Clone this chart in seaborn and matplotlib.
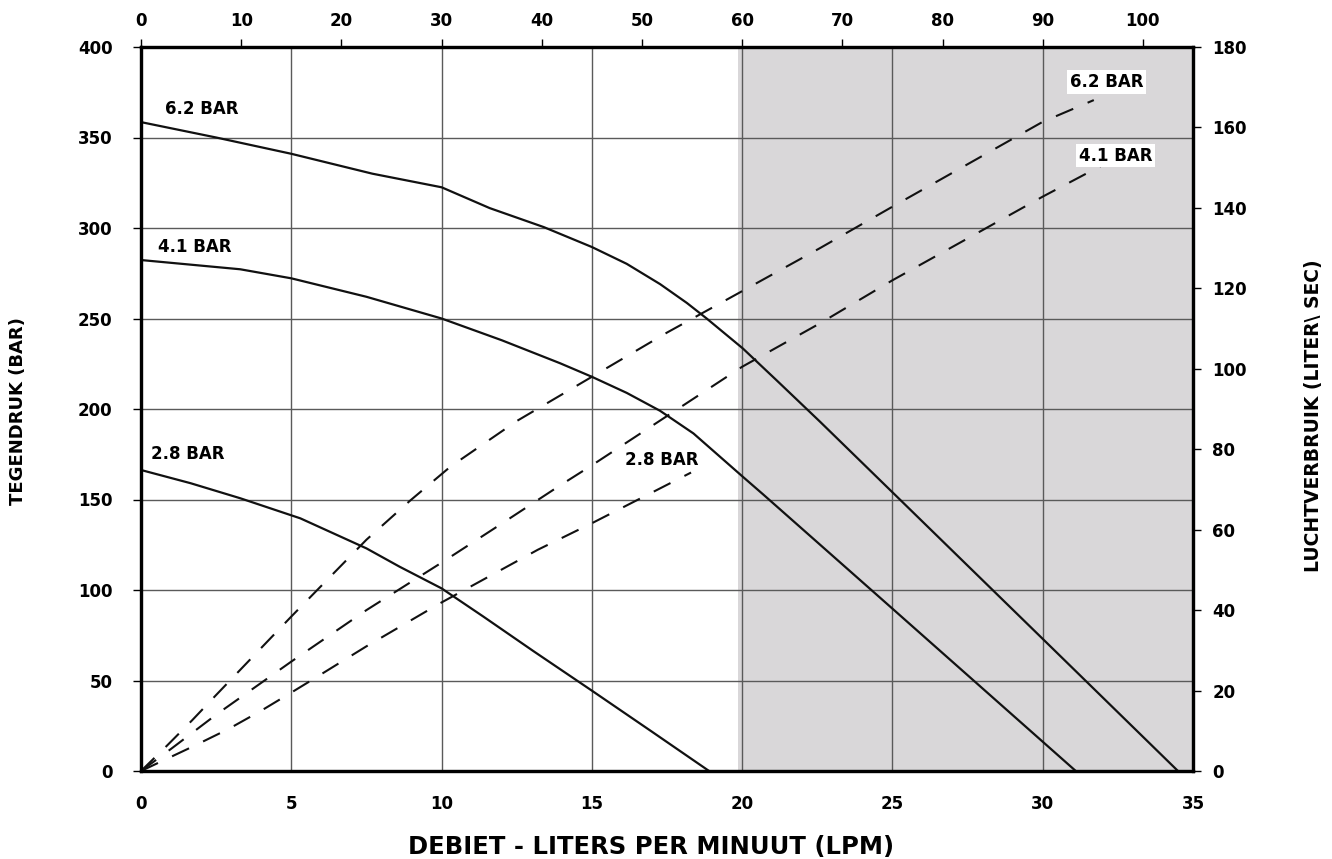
import matplotlib
matplotlib.use('Agg')
import matplotlib.pyplot as plt
import seaborn as sns

# back pressure curves (left axis, bar) vs flow (LPM)
flow_62 = [0, 2.5, 5, 7.7, 10, 11.6, 13.4, 15, 16.16, 17.27, 18.16, 18.82, 20.02, 21.15, 22.59, 25, 30, 34.5]
press_62 = [358.5, 350, 341, 330, 322.5, 311, 300.5, 289.5, 280.2, 269, 258.6, 250, 233.5, 215.8, 193, 154, 73, 0]

flow_41 = [0, 3.3, 5, 7.5, 10, 12, 13.94, 15, 16.16, 17.27, 18.38, 20.02, 20.7, 25, 31.1]
press_41 = [282.3, 277.2, 272.2, 262, 250, 238, 225.3, 217.8, 208.9, 199, 186.5, 162.6, 152.8, 89.7, 0]

flow_28 = [0, 1.65, 3.3, 5.3, 6.4, 7.5, 8.6, 10, 11.4, 13.05, 15, 17, 18.9]
press_28 = [166.3, 159, 150.7, 139.6, 131.3, 123, 112.9, 100.9, 85.2, 66.3, 44.4, 21.7, 0]

# air consumption curves (right axis, liter/sec)
air_flow_62 = [0, 0.85, 1.7, 2.5, 5, 7.5, 8.95, 10.3, 12.5, 15, 17.5, 20, 22.59, 25, 30, 31.7]
air_62 = [0, 6.2, 12.6, 18.9, 38.4, 57.5, 67.2, 75.7, 87, 98, 109, 119.3, 130, 140.3, 161.4, 166.8]

air_flow_41 = [0, 1, 2.5, 5, 7.5, 10, 12, 13.88, 15, 20, 22.59, 25, 30, 32]
air_41 = [0, 5.5, 14, 27.2, 40, 51.8, 61.5, 70.7, 76, 100.5, 111.3, 122, 142.8, 150.7]

air_flow_28 = [0, 1.7, 2.9, 4, 5, 5.57, 7.5, 9.95, 13.2, 15, 18.3]
air_28 = [0, 6, 10.4, 15, 19.5, 22.1, 31, 41.7, 55, 61.6, 74.2]

bottom_ticks = [0, 5, 10, 15, 20, 25, 30, 35]
top_ticks = [0, 10, 20, 30, 40, 50, 60, 70, 80, 90, 100]
left_ticks = [0, 50, 100, 150, 200, 250, 300, 350, 400]
right_ticks = [0, 20, 40, 60, 80, 100, 120, 140, 160, 180]

sns.set_style('white')
plt.rcParams['font.family'] = ['DejaVu Sans']
plt.rcParams['font.weight'] = 'bold'
plt.rcParams.update({'text.color': 'black', 'axes.labelcolor': 'black',
                     'xtick.color': 'black', 'ytick.color': 'black',
                     'axes.edgecolor': 'black'})

fig = plt.figure(figsize=(13.32, 8.59), dpi=100)
ax = fig.add_axes([141 / 1332, 1 - 771 / 859, 1052 / 1332, 724 / 859])

# shaded zone past 20 LPM
ax.axvspan(19.85, 35, color='#d9d7d9', zorder=0, lw=0)

sns.lineplot(x=flow_62, y=press_62, ax=ax, color='#111111', linewidth=1.6, sort=False, estimator=None)
sns.lineplot(x=flow_41, y=press_41, ax=ax, color='#111111', linewidth=1.6, sort=False, estimator=None)
sns.lineplot(x=flow_28, y=press_28, ax=ax, color='#111111', linewidth=1.6, sort=False, estimator=None)

ax.set_xlim(0, 35)
ax.set_ylim(0, 400)
ax.set_xticks(bottom_ticks)
ax.set_yticks(left_ticks)
ax.set_axisbelow(True)
ax.grid(True, color='#5a5a5a', linewidth=1.0)
ax.tick_params(axis='both', direction='out', length=6, width=1, labelsize=12, colors='black')
ax.tick_params(axis='x', pad=11)
ax.tick_params(axis='y', pad=14.5)
for s in ax.spines.values():
    s.set_linewidth(2.3)
    s.set_color('black')

ax2 = ax.twinx()
for fx, fy in [(air_flow_62, air_62), (air_flow_41, air_41), (air_flow_28, air_28)]:
    sns.lineplot(x=fx, y=fy, ax=ax2, color='#111111', linewidth=1.5, sort=False,
                 estimator=None, linestyle=(0, (9, 7.5)))
ax2.set_ylim(0, 180)
ax2.set_yticks(right_ticks)
ax2.tick_params(axis='y', direction='out', length=6, width=1, labelsize=12, pad=8, colors='black')
ax2.grid(False)
for s in ax2.spines.values():
    s.set_linewidth(2.3)
    s.set_color('black')

top = ax.secondary_xaxis('top', functions=(lambda v: v * 3, lambda v: v / 3))
top.set_xticks(top_ticks)
top.tick_params(direction='out', length=6, width=1, labelsize=12, pad=6, colors='black')

# curve labels
ax.text(0.8, 366, '6.2 BAR', fontsize=12, fontweight='bold', va='center')
ax.text(0.57, 289.5, '4.1 BAR', fontsize=12, fontweight='bold', va='center')
ax.text(0.33, 175, '2.8 BAR', fontsize=12, fontweight='bold', va='center')
ax2.text(30.9, 171.3, '6.2 BAR', fontsize=12, fontweight='bold', va='center',
         bbox=dict(facecolor='white', edgecolor='none', pad=2))
ax2.text(31.2, 153, '4.1 BAR', fontsize=12, fontweight='bold', va='center',
         bbox=dict(facecolor='white', edgecolor='none', pad=2))
ax2.text(16.1, 77.3, '2.8 BAR', fontsize=12, fontweight='bold', va='center')

fig.text(651 / 1332, 1 - 847 / 859, 'DEBIET - LITERS PER MINUUT (LPM)', fontsize=17.5,
         fontweight='bold', ha='center', va='center')
fig.text(18 / 1332, 1 - 411 / 859, 'TEGENDRUK (BAR)', fontsize=13, fontweight='bold',
         ha='center', va='center', rotation=90)
fig.text(1313 / 1332, 1 - 416 / 859, 'LUCHTVERBRUIK (LITER\\ SEC)', fontsize=13.5,
         fontweight='bold', ha='center', va='center', rotation=90)

fig.savefig('out.png', dpi=100)
